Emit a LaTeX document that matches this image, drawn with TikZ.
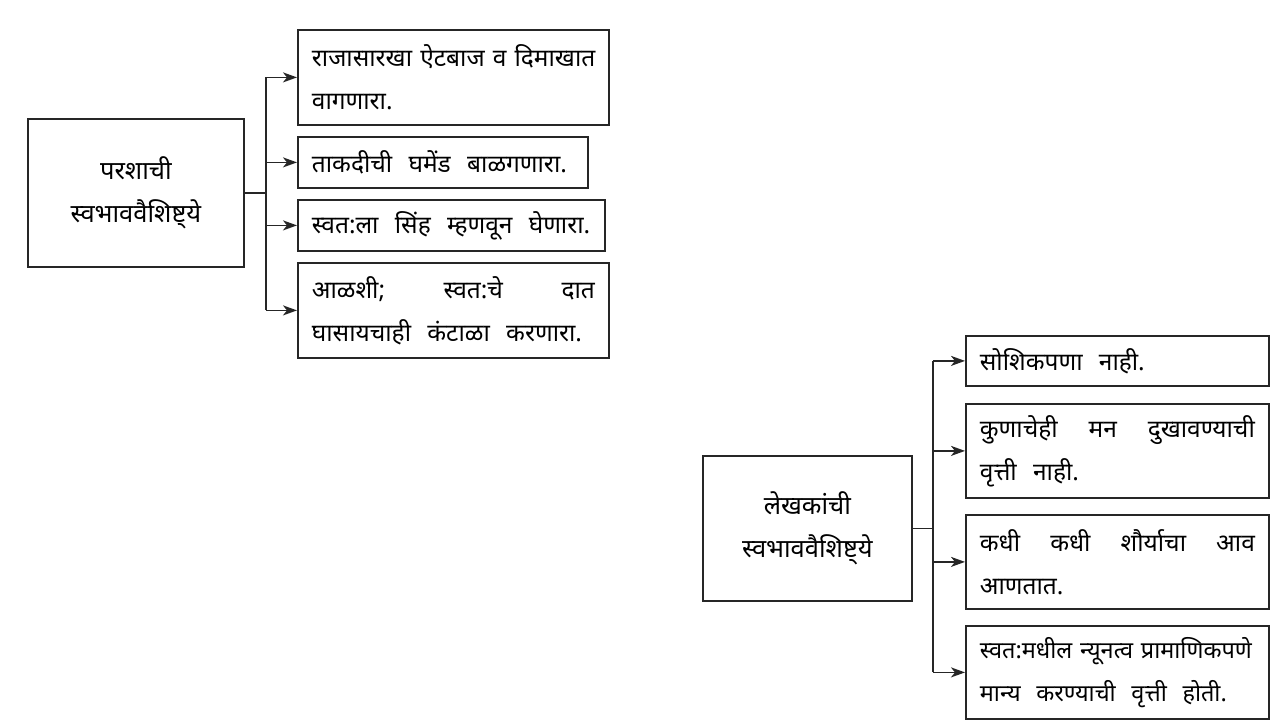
\documentclass[tikz,border=0pt]{standalone}
\usepackage{fontspec}
\newfontfamily\deva[Script=Devanagari]{Noto Sans}
\usetikzlibrary{arrows.meta}
\newcommand\jl[1]{\hbox to \hsize{#1}}
\tikzset{
  base/.style={draw=black!85, line width=1.8pt, rectangle, anchor=north west, inner ysep=0pt},
  mainbox/.style={base, align=center, font=\deva\fontsize{25.5}{43}\selectfont},
  itembox/.style={base, align=left, inner xsep=14pt, font=\deva\fontsize{24.5}{43}\selectfont},
  conn/.style={line width=1.8pt, draw=black!85},
  arr/.style={conn, -{Stealth[length=14pt,width=10pt,inset=4pt]}},
}
\begin{document}
\begin{tikzpicture}[x=1pt,y=-1pt]
\useasboundingbox[fill=white] (0,0) rectangle (1280,720);
% left group
\node[mainbox, minimum width=216pt, minimum height=148pt] (m1) at (27,118) {परशाची\\स्वभाववैशिष्ट्ये};
\node[itembox, minimum width=311pt, minimum height=95pt, text width=283pt] (b1) at (297,29) {\jl{राजासारखा ऐटबाज व दिमाखात}\\वागणारा.};
\node[itembox, minimum width=290pt, minimum height=51pt, text width=262pt] (b2) at (297,136) {ताकदीची\ \ घमेंड\ \ बाळगणारा.};
\node[itembox, minimum width=307pt, minimum height=51pt, text width=279pt] (b3) at (297,199) {स्वत:ला\ \ सिंह\ \ म्हणवून\ \ घेणारा.};
\node[itembox, minimum width=311pt, minimum height=95pt, text width=283pt] (b4) at (297,262) {\jl{आळशी;\hfill स्वत:चे\hfill दात}\\घासायचाही\ \ कंटाळा\ \ करणारा.};
\path (m1.east) ++(21,0) coordinate (t1);
\draw[conn] (m1.east) -- (t1);
\draw[conn] (t1 |- b1.west) -- (t1 |- b4.west);
\draw[arr] (t1 |- b1.west) -- (b1.west);
\draw[arr] (t1 |- b2.west) -- (b2.west);
\draw[arr] (t1 |- b3.west) -- (b3.west);
\draw[arr] (t1 |- b4.west) -- (b4.west);
% right group
\node[mainbox, minimum width=209pt, minimum height=145pt] (m2) at (702,455) {लेखकांची\\स्वभाववैशिष्ट्ये};
\node[itembox, minimum width=303pt, minimum height=50pt, text width=275pt] (c1) at (965,335) {सोशिकपणा\ \ नाही.};
\node[itembox, minimum width=303pt, minimum height=94pt, text width=275pt] (c2) at (965,403) {\jl{कुणाचेही\hfill मन\hfill दुखावण्याची}\\वृत्ती\ \ नाही.};
\node[itembox, minimum width=303pt, minimum height=94pt, text width=275pt] (c3) at (965,514) {\jl{कधी\hfill कधी\hfill शौर्याचा\hfill आव}\\आणतात.};
\node[itembox, font=\deva\fontsize{23.5}{43}\selectfont, minimum width=303pt, minimum height=93pt, text width=275pt] (c4) at (965,625) {\jl{स्वत:मधील न्यूनत्व प्रामाणिकपणे}\\मान्य\ \ करण्याची\ \ वृत्ती\ \ होती.};
\path (m2.east) ++(20,0) coordinate (t2);
\draw[conn] (m2.east) -- (t2);
\draw[conn] (t2 |- c1.west) -- (t2 |- c4.west);
\draw[arr] (t2 |- c1.west) -- (c1.west);
\draw[arr] (t2 |- c2.west) -- (c2.west);
\draw[arr] (t2 |- c3.west) -- (c3.west);
\draw[arr] (t2 |- c4.west) -- (c4.west);
\end{tikzpicture}
\end{document}
